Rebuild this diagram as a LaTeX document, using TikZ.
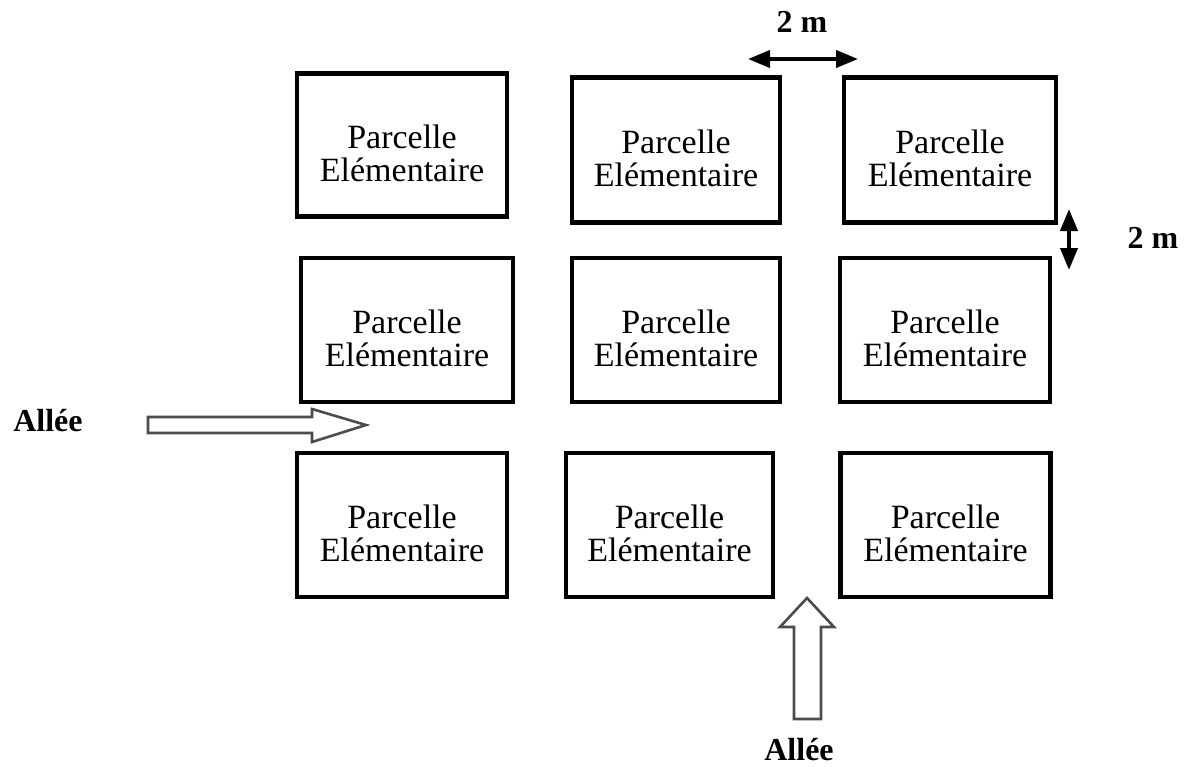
\documentclass[tikz,border=0pt]{standalone}
\usepackage{fontspec}
\setmainfont{Liberation Serif}
\usetikzlibrary{arrows.meta}
\tikzset{
  parcel/.style={draw=black, line width=2.4pt, fill=white, inner sep=0pt,
    minimum height=72pt},
  ptext/.style={align=center, inner sep=0pt, yshift=-4.2pt,
    font=\fontsize{17pt}{16.6pt}\selectfont},
  dimarrow/.style={line width=2pt, {Triangle[length=11pt,width=8.5pt]}-{Triangle[length=11pt,width=8.5pt]}},
  hollow/.style={draw=black!70, line width=1.3pt, fill=white, line join=miter},
  lbl/.style={font=\bfseries\fontsize{16pt}{18pt}\selectfont, inner sep=0pt}
}
\begin{document}
\begin{tikzpicture}[x=0.5pt,y=-0.5pt]
\useasboundingbox (0,0) rectangle (1191,767);
% row 1
\node[parcel, minimum width=105pt, minimum height=71.5pt] (p11) at (402,145) {};
\node[parcel, minimum width=104pt, minimum height=72.5pt] (p12) at (676,150) {};
\node[parcel, minimum width=106pt, minimum height=72.5pt] (p13) at (950,150) {};
% row 2
\node[parcel, minimum width=106pt] (p21) at (407,330) {};
\node[parcel, minimum width=104pt] (p22) at (676,330) {};
\node[parcel, minimum width=105pt] (p23) at (945,330) {};
% row 3
\node[parcel, minimum width=105pt] (p31) at (402,525) {};
\node[parcel, minimum width=103.5pt] (p32) at (669.5,525) {};
\node[parcel, minimum width=105pt] (p33) at (945.5,525) {};
% texts
\foreach \n in {p11,p12,p13,p21,p22,p23,p31,p32,p33}
  \node[ptext] (t\n) at (\n.center) {Parcelle\\Elémentaire};
% dimension arrows
\coordinate (dtl) at (748,59);
\coordinate (dtr) at (858,59);
\draw[dimarrow] (dtl) -- (dtr);
\node[lbl] (dtlab) at (802,22) {2 m};
\coordinate (drt) at (1069,209);
\coordinate (drb) at (1069,270);
\draw[dimarrow] (drt) -- (drb);
\node[lbl] (drlab) at (1153,238) {2 m};
% left hollow arrow
\draw[hollow] (148,417) -- (312,417) -- (312,409) -- (366,425) -- (312,442) -- (312,433) -- (148,433) -- cycle;
\node[lbl] (allee1) at (48,421) {Allée};
% bottom hollow arrow
\draw[hollow] (794,719) -- (794,627) -- (780,627) -- (807,598) -- (834,627) -- (821,627) -- (821,719) -- cycle;
\node[lbl] (allee2) at (799,750) {Allée};
\end{tikzpicture}
\end{document}
